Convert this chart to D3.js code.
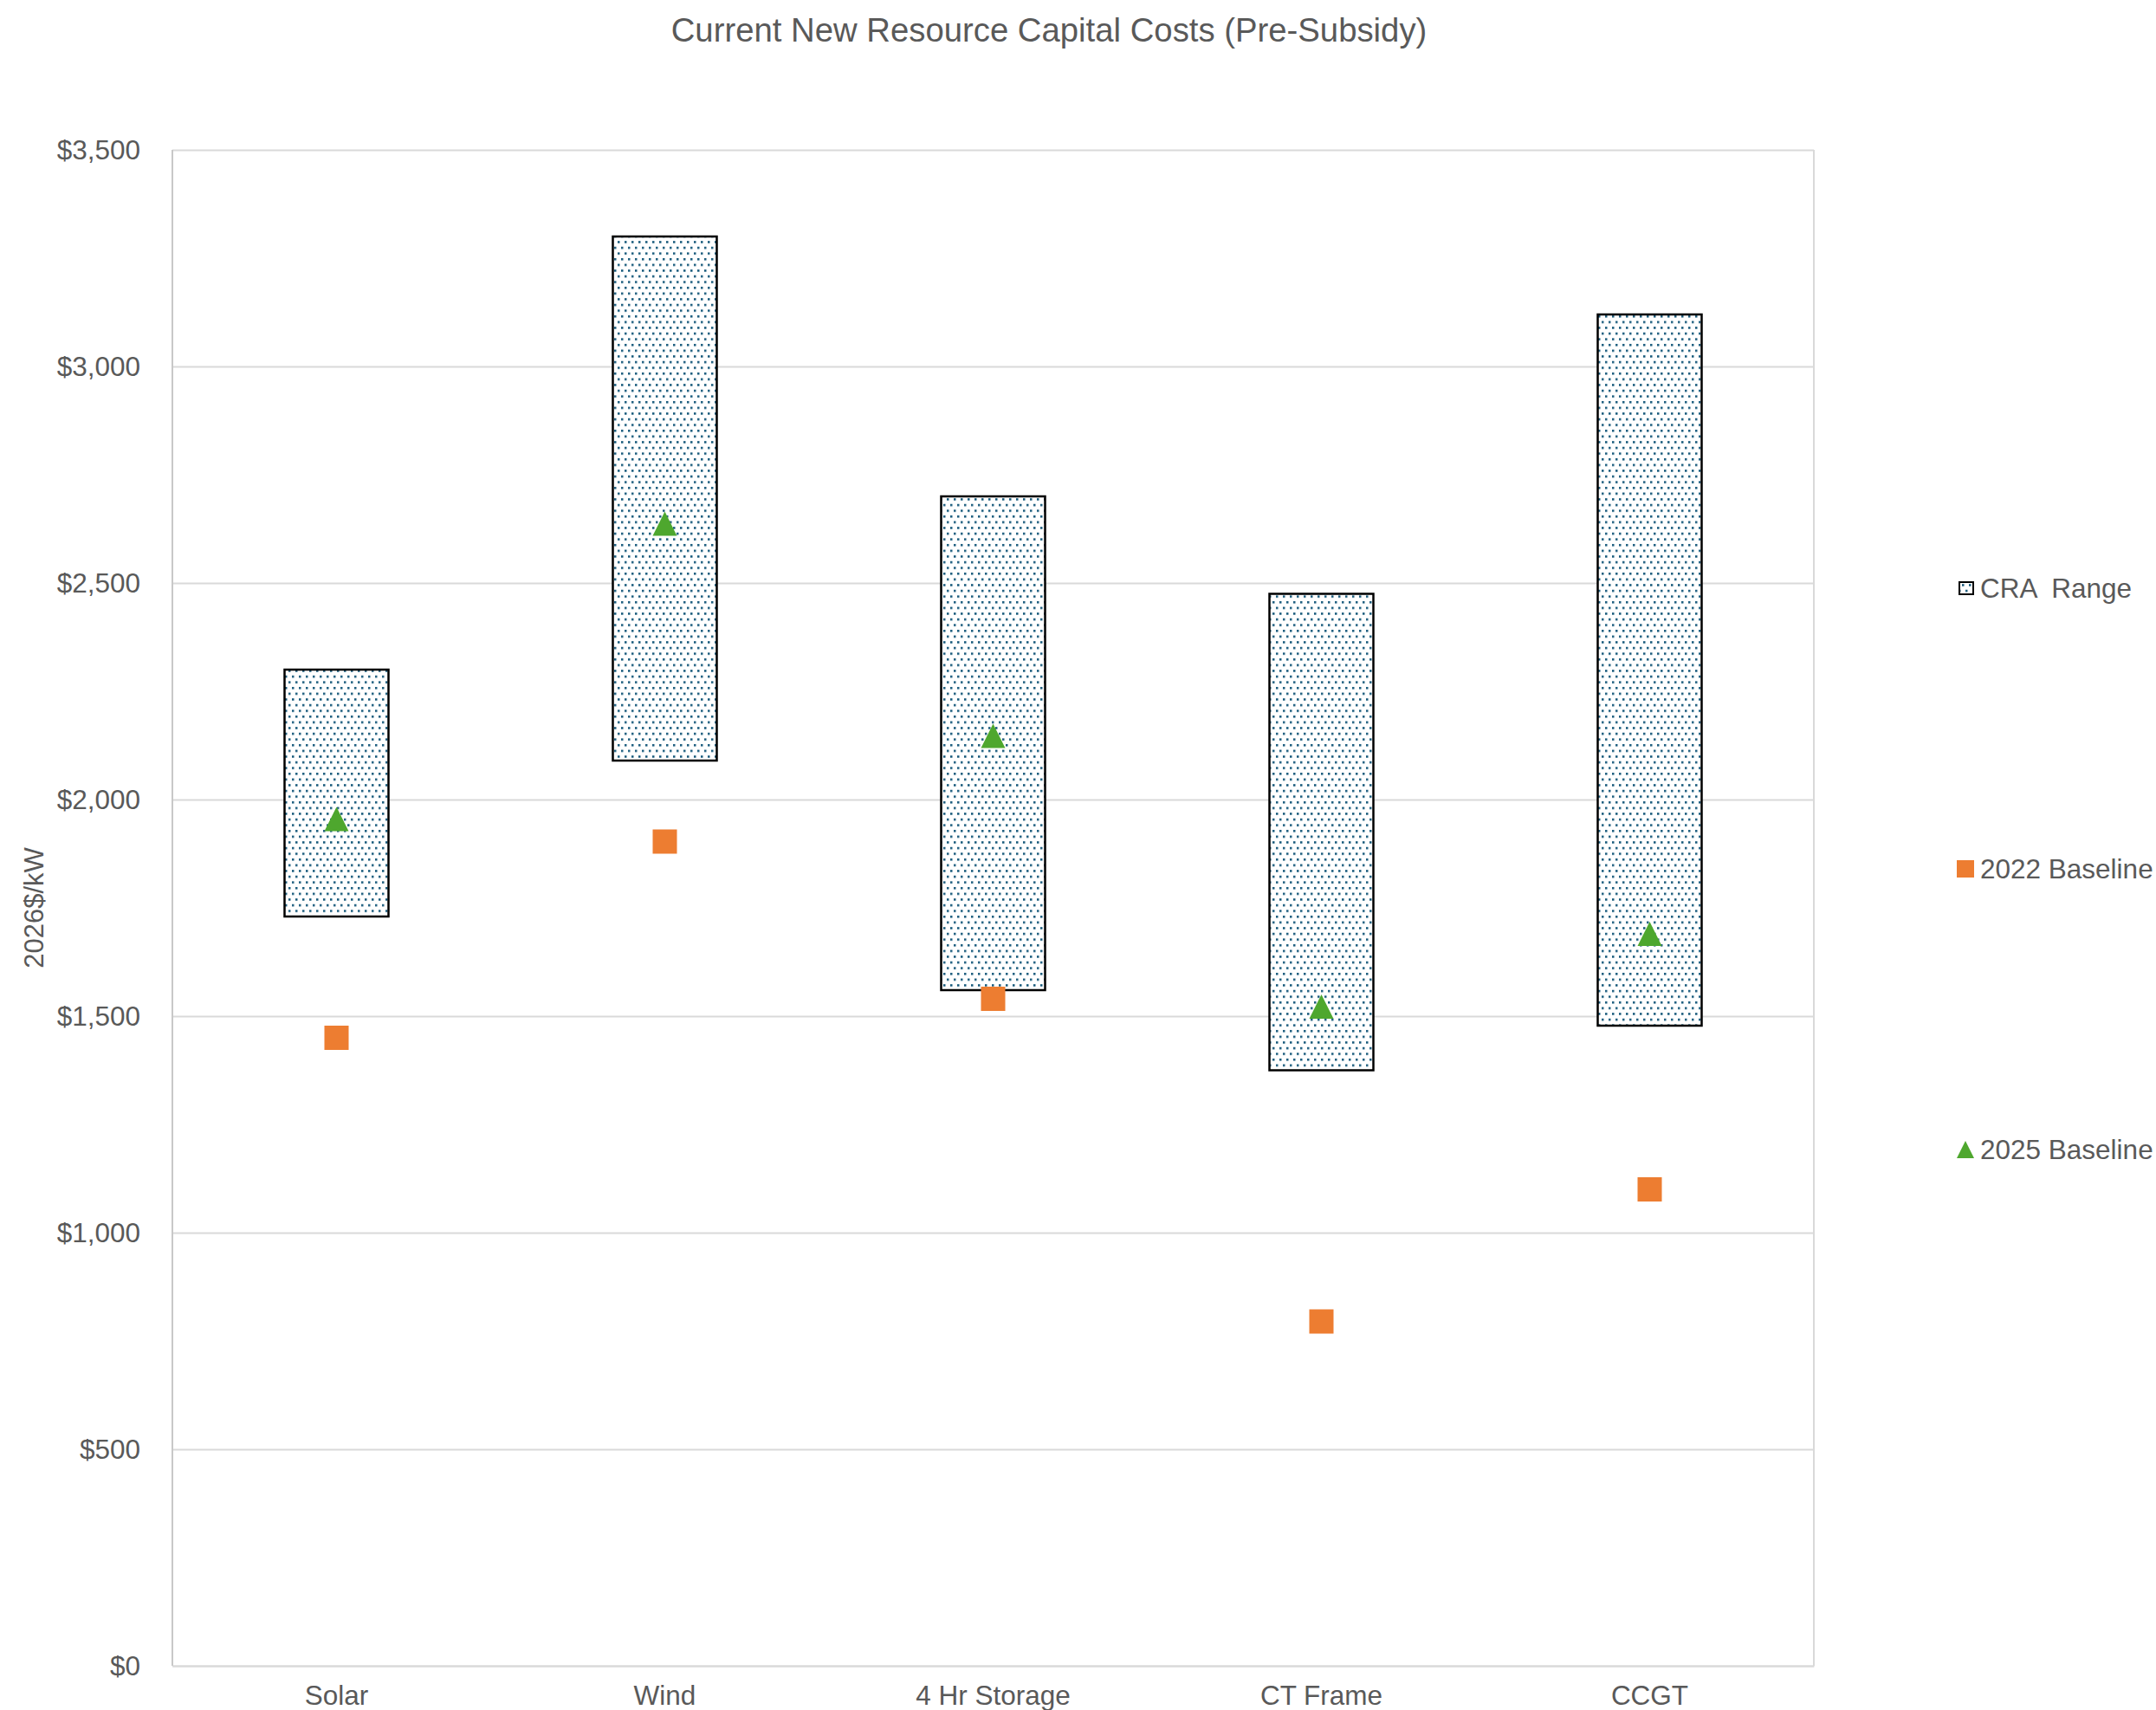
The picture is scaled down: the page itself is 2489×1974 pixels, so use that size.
<!DOCTYPE html>
<html>
<head>
<meta charset="utf-8">
<script src="https://cdn.jsdelivr.net/npm/d3@7"></script>
<style>
  html, body { margin: 0; padding: 0; background: #fff; }
  svg { display: block; font-family: Arial, "Liberation Sans", sans-serif; }
</style>
</head>
<body>
<svg id="chart" width="2489" height="1974"></svg>
<script>
// ---- data ----
const categories = ["Solar", "Wind", "4 Hr Storage", "CT Frame", "CCGT"];
const rangeLow   = [1730, 2090, 1560, 1375, 1478];
const rangeHigh  = [2300, 3300, 2700, 2475, 3120];
const baseline2022 = [1450, 1903, 1540, 795, 1100];
const baseline2025 = [1955, 2637, 2147, 1522, 1690];
const yTicks = [0, 500, 1000, 1500, 2000, 2500, 3000, 3500];
const seriesNames = ["CRA  Range", "2022 Baseline", "2025 Baseline"];
const titleText = "Current New Resource Capital Costs (Pre-Subsidy)";
const yTitle = "2026$/kW";

// ---- layout ----
const W = 2489, H = 1974;
const plot = { left: 199, right: 2094, top: 173, bottom: 1923 };
const textColor = "#595959";
const gridColor = "#d9d9d9";
const orange = "#ED7D31";
const green = "#4EA72E";
const dotColor = "#15587a";

const svg = d3.select("#chart");

// pattern
const defs = svg.append("defs");
const pat = defs.append("pattern")
  .attr("id", "dots").attr("patternUnits", "userSpaceOnUse")
  .attr("width", 8).attr("height", 13.2);
pat.append("rect").attr("width", 8).attr("height", 13.2).attr("fill", "#fff");
pat.append("rect").attr("x", 1).attr("y", 1).attr("width", 2.5).attr("height", 2.5).attr("fill", dotColor);
pat.append("rect").attr("x", 5).attr("y", 7.6).attr("width", 2.5).attr("height", 2.5).attr("fill", dotColor);

const x = d3.scaleBand().domain(categories).range([plot.left, plot.right]);
const y = d3.scaleLinear().domain([0, 3500]).range([plot.bottom, plot.top]);

// gridlines + y axis
const yAxis = d3.axisLeft(y).tickValues(yTicks).tickFormat(d3.format("$,.0f"))
  .tickSize(-(plot.right - plot.left)).tickPadding(37);
const gy = svg.append("g").attr("transform", `translate(${plot.left},0)`).call(yAxis);
gy.select(".domain").remove();
gy.selectAll(".tick line").attr("stroke", gridColor).attr("stroke-width", 2);
gy.selectAll(".tick text").attr("fill", textColor).attr("font-size", 31.5)
  .attr("font-family", "Arial, 'Liberation Sans', sans-serif");

// plot border (left and right)
svg.append("line").attr("x1", plot.left).attr("x2", plot.left).attr("y1", plot.top).attr("y2", plot.bottom)
  .attr("stroke", "#c8c8c8").attr("stroke-width", 2);
svg.append("line").attr("x1", plot.right).attr("x2", plot.right).attr("y1", plot.top).attr("y2", plot.bottom)
  .attr("stroke", gridColor).attr("stroke-width", 2);

// x axis
const xAxis = d3.axisBottom(x).tickSize(0).tickPadding(23);
const gx = svg.append("g").attr("transform", `translate(0,${plot.bottom})`).call(xAxis);
gx.select(".domain").attr("stroke", gridColor).attr("stroke-width", 2);
gx.selectAll(".tick text").attr("fill", textColor).attr("font-size", 31.5)
  .attr("font-family", "Arial, 'Liberation Sans', sans-serif");

// range bars
const barW = 120;
const rows = categories.map((c, i) => ({ c, lo: rangeLow[i], hi: rangeHigh[i], b22: baseline2022[i], b25: baseline2025[i] }));
svg.append("g").selectAll("rect").data(rows).join("rect")
  .attr("x", d => x(d.c) + x.bandwidth() / 2 - barW / 2)
  .attr("y", d => y(d.hi))
  .attr("width", barW)
  .attr("height", d => y(d.lo) - y(d.hi))
  .attr("fill", "url(#dots)")
  .attr("stroke", "#000").attr("stroke-width", 2.5);

// 2022 squares
const sq = 28;
svg.append("g").selectAll("rect").data(rows).join("rect")
  .attr("x", d => x(d.c) + x.bandwidth() / 2 - sq / 2)
  .attr("y", d => y(d.b22) - sq / 2)
  .attr("width", sq).attr("height", sq)
  .attr("fill", orange);

// 2025 triangles
const tri = 28;
const triPath = (cx, cy, s) => `M${cx},${cy - s / 2}L${cx + s / 2},${cy + s / 2}L${cx - s / 2},${cy + s / 2}Z`;
svg.append("g").selectAll("path").data(rows).join("path")
  .attr("d", d => triPath(x(d.c) + x.bandwidth() / 2, y(d.b25), tri))
  .attr("fill", green);

// title
svg.append("text").attr("x", 1211).attr("y", 48).attr("text-anchor", "middle")
  .attr("font-size", 38.3).attr("fill", textColor).text(titleText);

// y title
svg.append("text").attr("transform", `translate(50,${(plot.top + plot.bottom) / 2}) rotate(-90)`)
  .attr("text-anchor", "middle").attr("font-size", 31).attr("fill", textColor).text(yTitle);

// legend
const legY = [679, 1003, 1327];
const lg = svg.append("g");
lg.append("rect").attr("x", 2262).attr("y", legY[0] - 7).attr("width", 16).attr("height", 14)
  .attr("fill", "url(#dots)").attr("stroke", "#000").attr("stroke-width", 2);
lg.append("rect").attr("x", 2259).attr("y", legY[1] - 10).attr("width", 20).attr("height", 20).attr("fill", orange);
lg.append("path").attr("d", triPath(2269, legY[2], 20)).attr("fill", green);
lg.selectAll("text").data(seriesNames).join("text")
  .attr("x", 2286).attr("y", (d, i) => legY[i]).attr("dy", "0.35em")
  .attr("font-size", 31.5).attr("fill", textColor)
  .attr("xml:space", "preserve").style("white-space", "pre")
  .text(d => d);
</script>
</body>
</html>
